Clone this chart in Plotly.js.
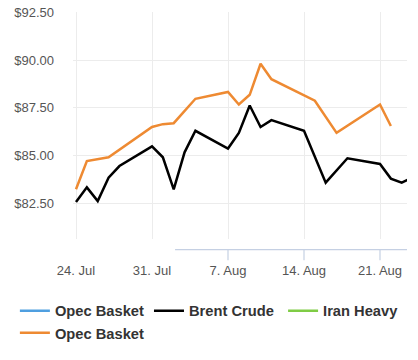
<!DOCTYPE html>
<html>
<head>
<meta charset="utf-8">
<script src="https://cdn.plot.ly/plotly-3.0.1.min.js"></script>
<style>
  html, body { margin: 0; padding: 0; background: #ffffff; }
  #chart { width: 418px; height: 360px; }
</style>
</head>
<body>
<div id="chart"></div>
<script>
// ---- data ----
var brentDates = ['2023-07-24','2023-07-25','2023-07-26','2023-07-27','2023-07-28','2023-07-31','2023-08-01','2023-08-02','2023-08-03','2023-08-04','2023-08-07','2023-08-08','2023-08-09','2023-08-10','2023-08-11','2023-08-14','2023-08-16','2023-08-18','2023-08-21','2023-08-22','2023-08-23','2023-08-24'];
var brentValues = [82.55,83.32,82.60,83.83,84.44,85.47,84.90,83.22,85.16,86.29,85.36,86.18,87.62,86.49,86.85,86.29,83.57,84.85,84.55,83.78,83.57,83.83];

var opecDates = ['2023-07-24','2023-07-25','2023-07-27','2023-07-31','2023-08-01','2023-08-02','2023-08-04','2023-08-07','2023-08-08','2023-08-09','2023-08-10','2023-08-11','2023-08-15','2023-08-17','2023-08-21','2023-08-22'];
var opecValues = [83.22,84.70,84.90,86.49,86.64,86.69,87.97,88.33,87.67,88.18,89.81,89.00,87.87,86.18,87.67,86.54];

// series shown only in the legend (no visible data)
var opecBlueDates = ['2023-07-24'];
var opecBlueValues = [null];
var iranHeavyDates = ['2023-07-24'];
var iranHeavyValues = [null];

var seriesNames = ['Opec Basket', 'Brent Crude', 'Iran Heavy', 'Opec Basket'];

var xTickVals = ['2023-07-24','2023-07-31','2023-08-07','2023-08-14','2023-08-21'];
var xTickText = ['24. Jul','31. Jul','7. Aug','14. Aug','21. Aug'];
var yTickVals = [82.5, 85, 87.5, 90, 92.5];
var yTickText = ['$82.50','$85.00','$87.50','$90.00','$92.50'];

// ---- traces ----
var traces = [
  {x: opecBlueDates, y: opecBlueValues, name: seriesNames[0], mode: 'lines', type: 'scatter',
   line: {color: '#4f9fe0', width: 2.5}},
  {x: brentDates, y: brentValues, name: seriesNames[1], mode: 'lines', type: 'scatter',
   line: {color: '#000000', width: 2.5}},
  {x: iranHeavyDates, y: iranHeavyValues, name: seriesNames[2], mode: 'lines', type: 'scatter',
   line: {color: '#7fcc45', width: 2.5}},
  {x: opecDates, y: opecValues, name: seriesNames[3], mode: 'lines', type: 'scatter',
   line: {color: '#ee8a32', width: 2.5}}
];

// axis line + tick marks below the plot (only on the right part, as in the picture)
var axisStart = '2023-08-02 03:00';
var shapes = [{
  type: 'line', xref: 'x', yref: 'paper', x0: axisStart, x1: '2023-08-23 11:40',
  y0: -0.047, y1: -0.047, line: {color: '#c5d0e3', width: 1.2}
}];
xTickVals.forEach(function (d) {
  if (new Date(d) > new Date(axisStart)) {
    shapes.push({type: 'line', xref: 'x', yref: 'paper', x0: d, x1: d,
      y0: -0.047, y1: -0.094, line: {color: '#c5d0e3', width: 1.2}});
  }
});

var layout = {
  width: 418, height: 360,
  margin: {l: 73, r: 11, t: 12, b: 115},
  paper_bgcolor: '#ffffff', plot_bgcolor: '#ffffff',
  font: {family: '"Liberation Sans", Arial, sans-serif', color: '#555555', size: 13},
  xaxis: {
    type: 'date',
    range: ['2023-07-23 17:22', '2023-08-23 11:41'],
    tickvals: xTickVals, ticktext: xTickText,
    showgrid: true, gridcolor: '#ececec', gridwidth: 1,
    showline: false, zeroline: false, ticks: '',
    ticklabelstandoff: 22,
    tickfont: {size: 13, color: '#555555'}
  },
  yaxis: {
    range: [80.61, 92.526],
    tickvals: yTickVals, ticktext: yTickText,
    showgrid: true, gridcolor: '#ececec', gridwidth: 1,
    showline: false, zeroline: false, ticks: '',
    ticklabelstandoff: 18,
    tickfont: {size: 13, color: '#555555'}
  },
  showlegend: true,
  legend: {
    orientation: 'h', x: -0.174, xanchor: 'left', y: -0.245, yanchor: 'top',
    font: {size: 14.7, color: '#333333', family: '"Liberation Sans", Arial, sans-serif', weight: 'bold'},
    traceorder: 'normal', bgcolor: 'rgba(0,0,0,0)'
  },
  shapes: shapes
};

Plotly.newPlot('chart', traces, layout, {displayModeBar: false, staticPlot: true});
</script>
</body>
</html>
